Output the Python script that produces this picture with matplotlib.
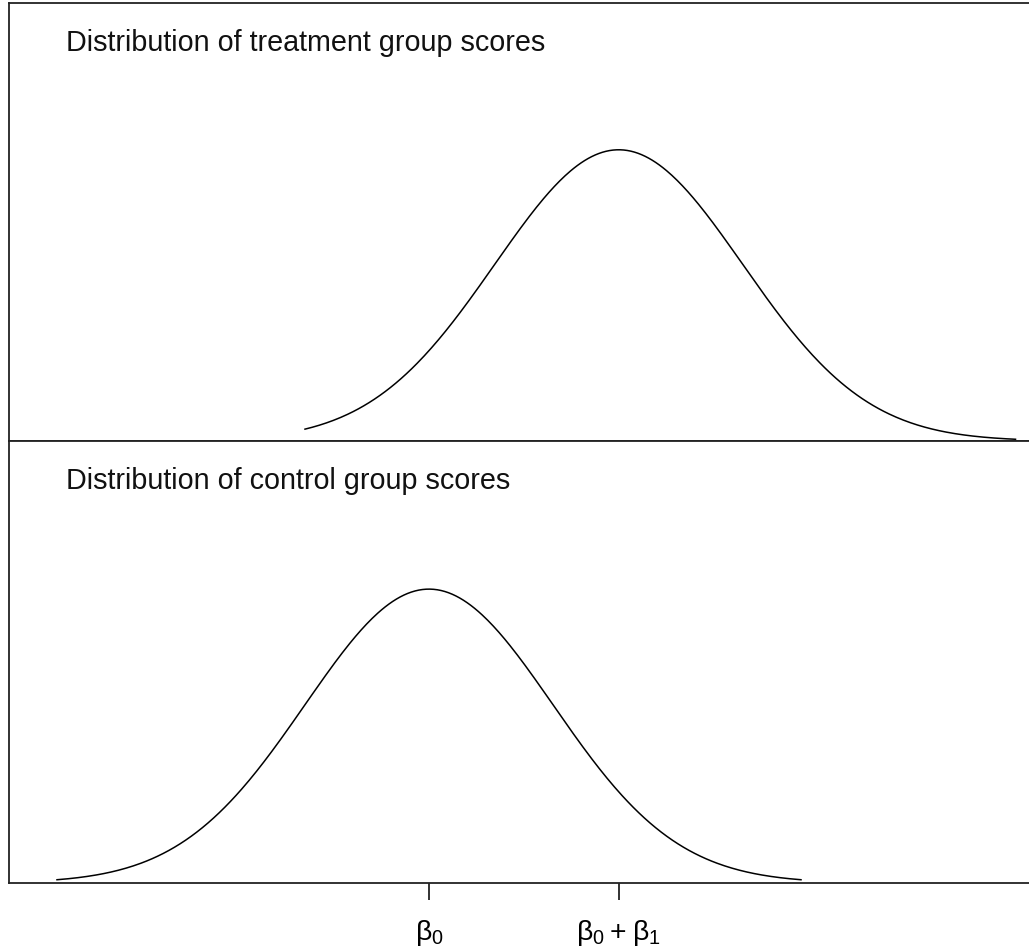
import numpy as np
import matplotlib.pyplot as plt

plt.rcParams['font.family'] = ['Liberation Sans', 'DejaVu Sans']

# parameters (beta0 = 0, sd = 1)
beta0 = 0.0
beta1 = 1.53
sd = 1.0
panel_titles = ["Distribution of treatment group scores",
                "Distribution of control group scores"]
panel_means = [beta0 + beta1, beta0]
panel_ranges = [(-1.0, 4.73), (-3.0, 3.0)]
tick_pos = [beta0, beta0 + beta1]
tick_labels = [r'$\mathregular{β_0}$', r'$\mathregular{β_0+β_1}$']


def dnorm(x, mu, s):
    return np.exp(-0.5 * ((x - mu) / s) ** 2) / (s * np.sqrt(2 * np.pi))


fig = plt.figure(figsize=(10.29, 9.51), dpi=100)
W, H = 1029, 951
left_px, right_px = 9, 1040
panels_px = [(3, 441), (441, 883)]

axes = []
for (top, bot) in panels_px:
    ax = fig.add_axes([left_px / W, 1 - bot / H, (right_px - left_px) / W, (bot - top) / H])
    axes.append(ax)

for ax, title, mu, (lo, hi) in zip(axes, panel_titles, panel_means, panel_ranges):
    x = np.linspace(lo, hi, 400)
    ax.plot(x, dnorm(x, mu, sd), color='black', lw=1.1)
    ax.set_xlim(-3.387, (right_px - 429) / 124)
    ax.set_ylim(0, 0.6)
    ax.set_yticks([])
    for sp in ax.spines.values():
        sp.set_linewidth(1.3)
        sp.set_color('#222222')
    ax.text(57 / (right_px - left_px), 1 - 40 / 438, title, transform=ax.transAxes,
            fontsize=20.7, va='center', ha='left', color='#111111')

axes[0].set_xticks([])
axes[1].set_xticks(tick_pos)
axes[1].set_xticklabels(tick_labels, fontsize=20.4)
axes[1].tick_params(axis='x', length=12, width=1.3, pad=13, color='#222222')

fig.savefig('out.png', dpi=100)
